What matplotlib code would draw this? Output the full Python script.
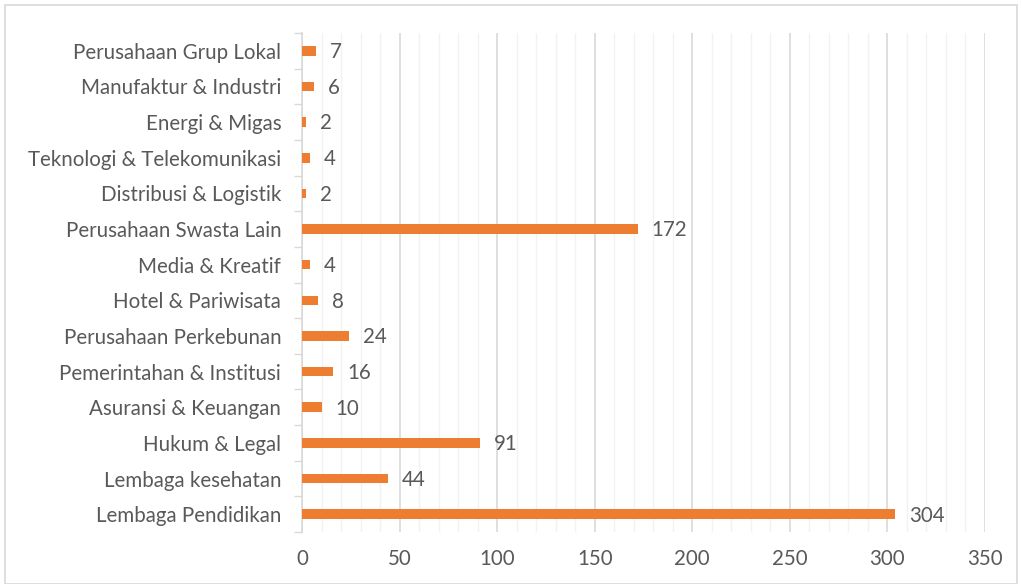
import numpy as np
import matplotlib.pyplot as plt
from matplotlib.patches import Rectangle

categories = ["Lembaga Pendidikan", "Lembaga kesehatan", "Hukum & Legal", "Asuransi & Keuangan",
              "Pemerintahan & Institusi", "Perusahaan Perkebunan", "Hotel & Pariwisata",
              "Media & Kreatif", "Perusahaan Swasta Lain", "Distribusi & Logistik",
              "Teknologi & Telekomunikasi", "Energi & Migas", "Manufaktur & Industri",
              "Perusahaan Grup Lokal"]
values = [304, 44, 91, 10, 16, 24, 8, 4, 172, 2, 4, 2, 6, 7]
x_ticks = [0, 50, 100, 150, 200, 250, 300, 350]

plt.rcParams['font.family'] = ['Lato', 'DejaVu Sans']
text_color = '#595959'
bar_color = '#ED7D31'
fs = 14.8

fig = plt.figure(figsize=(10.21, 5.84), dpi=100)
ax = fig.add_axes([302 / 1021, 1 - 532 / 584, (985 - 302) / 1021, (532 - 33) / 584])

y = np.arange(len(categories))
ax.barh(y, values, height=0.27, color=bar_color, zorder=3)
for yi, v in zip(y, values):
    ax.annotate(str(v), (v, yi), xytext=(10, -1), textcoords='offset points',
                va='center', ha='left', fontsize=fs, color=text_color)

ax.set_xlim(0, 350)
ax.set_ylim(-0.5, len(categories) - 0.5)
ax.set_xticks(x_ticks)
ax.set_xticks(np.arange(0, 351, 10), minor=True)
ax.set_yticks(y)
ax.set_yticklabels(categories)
ax.set_yticks(np.arange(-0.5, len(categories), 1), minor=True)

ax.grid(axis='x', which='major', color='#D9D9D9', linewidth=1.2, zorder=0)
ax.grid(axis='x', which='minor', color='#F2F2F2', linewidth=1.0, zorder=0)

ax.tick_params(axis='x', which='both', length=0, labelsize=fs, labelcolor=text_color, pad=12)
ax.tick_params(axis='y', which='major', length=0, labelsize=fs, labelcolor=text_color, pad=15)
ax.tick_params(axis='y', which='minor', length=6, color='#D9D9D9', width=1)

for s in ['top', 'right', 'bottom']:
    ax.spines[s].set_visible(False)
ax.spines['left'].set_color('#D9D9D9')
ax.spines['left'].set_linewidth(1.2)

fig.patches.append(Rectangle((5 / 1021, 0), 1012 / 1021, 1 - 5 / 584, transform=fig.transFigure,
                             fill=False, edgecolor='#D9D9D9', linewidth=1.2))

fig.savefig('out.png', dpi=100)
